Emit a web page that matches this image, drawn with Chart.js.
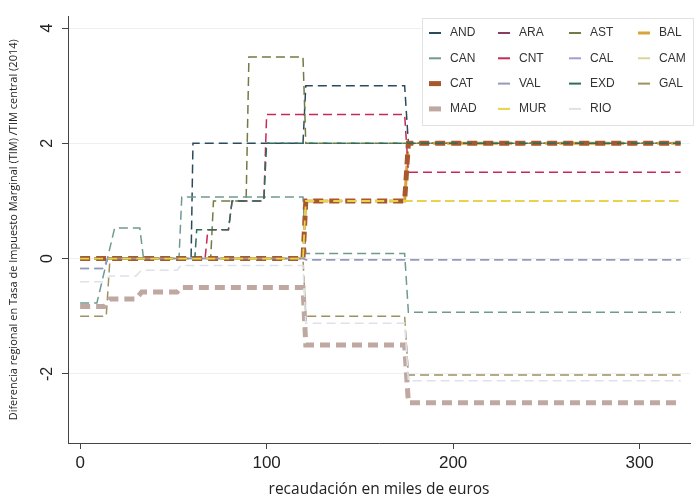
<!DOCTYPE html>
<html>
<head>
<meta charset="utf-8">
<script src="https://cdn.jsdelivr.net/npm/chart.js@4.4.0/dist/chart.umd.min.js"></script>
<style>
  html, body { margin: 0; padding: 0; background: #fff; }
  #wrap { width: 698px; height: 503px; }
</style>
</head>
<body>
<div id="wrap"><canvas id="tim"></canvas></div>
<script>
// Diferencia regional de TIM frente a TIM central (2014)
// cada serie: puntos [recaudacion (miles de euros), diferencia]
const AND = [[0,0],[59.5,0],[60.5,2],[119.5,2],[121,3],[174,3],[176,2],[322,2]];
const ARA = [[0,0],[119.5,0],[121,1],[322,1]];
const AST = [[0,0],[70,0],[71.5,1],[89,1],[90.5,3.5],[119.5,3.5],[121,2],[322,2]];
const BAL = [[0,0],[119.5,0],[121,1],[174,1],[176,2],[322,2]];
const CAN = [[0,-0.77],[9,-0.77],[18.5,0.53],[32,0.53],[34,0],[53,0],[54.5,1.07],[119.5,1.07],[121,0.09],[174,0.09],[176,-0.93],[322,-0.93]];
const CNT = [[0,0],[67,0],[68.5,0.5],[79.5,0.5],[81.5,1],[98.5,1],[100,2.5],[174,2.5],[176,1.5],[322,1.5]];
const CAL = [[0,-0.17],[12,-0.17],[15,0],[119.5,0],[121,-0.02],[322,-0.02]];
const CAM = [[0,0],[119.5,0],[121,1],[322,1]];
const CAT = [[0,0],[119.5,0],[121,1],[174,1],[176,2],[322,2]];
const VAL = [[0,-0.17],[12,-0.17],[15,0],[119.5,0],[121,-0.02],[322,-0.02]];
const EXD = [[0,0],[61.5,0],[62.5,0.5],[79.5,0.5],[81.5,1],[98.5,1],[100,2],[322,2]];
const GAL = [[0,-1],[14,-1],[16,0],[119.5,0],[121,-1],[174,-1],[176,-2.02],[322,-2.02]];
const MAD = [[0,-0.83],[13,-0.83],[16,-0.7],[30,-0.7],[33,-0.58],[52,-0.58],[54,-0.5],[119.5,-0.5],[121,-1.5],[174,-1.5],[176,-2.5],[322,-2.5]];
const MUR = [[0,0],[119.5,0],[121,1],[322,1]];
const RIO = [[0,-0.4],[12,-0.4],[16,-0.3],[30,-0.3],[33,-0.2],[52,-0.2],[54,-0.12],[119.5,-0.12],[121,-1.12],[174,-1.12],[176,-2.12],[322,-2.12]];

const regiones = ["AND","ARA","AST","BAL","CAN","CNT","CAL","CAM","CAT","VAL","EXD","GAL","MAD","MUR","RIO"];
const series = [AND, ARA, AST, BAL, CAN, CNT, CAL, CAM, CAT, VAL, EXD, GAL, MAD, MUR, RIO];
const xTicks = [0, 100, 200, 300];
const yTicks = [-2, 0, 2, 4];

// estilo
const colores = ["#2c4a5c","#8a3d5e","#6f7c45","#d9a43a","#6f9a90","#c42a55","#a89ad6","#d9d497",
                 "#a8582c","#8f9db8","#2f6d5b","#a09060","#bfa8a2","#e8d44a","#dde2ea"];
const grosor = [1.5,1.5,1.5,3,1.5,1.5,1.5,1.5,5,1.5,1.5,1.5,5,1.8,1.5];

const legendBox = {
  id: "legendBox",
  afterDraw(chart) {
    const ctx = chart.ctx;
    ctx.save();
    ctx.fillStyle = "#fff";
    ctx.fillRect(422, 18, 271, 107);
    ctx.strokeStyle = "#e2e2e2";
    ctx.lineWidth = 1;
    ctx.strokeRect(422.5, 18.5, 271, 107);
    const colX = [429, 498, 569, 638];
    ctx.font = "12px 'Liberation Sans'";
    ctx.textBaseline = "middle";
    chart.data.datasets.forEach((ds, i) => {
      const x = colX[i % 4];
      const y = 33 + Math.floor(i / 4) * 25.3;
      ctx.strokeStyle = ds.borderColor;
      ctx.lineWidth = Math.max(2, ds.borderWidth);
      ctx.setLineDash([]);
      ctx.beginPath();
      ctx.moveTo(x, y);
      ctx.lineTo(x + 12, y);
      ctx.stroke();
      ctx.fillStyle = "#333";
      ctx.fillText(ds.label, x + 21, y);
    });
    ctx.restore();
  }
};

new Chart(document.getElementById("tim"), {
  type: "line",
  data: {
    datasets: regiones.map((r, i) => ({
      label: r,
      data: series[i].map(p => ({ x: p[0], y: p[1] })),
      borderColor: colores[i],
      borderWidth: grosor[i],
      borderDash: grosor[i] > 3 ? [10, 6] : [9, 5],
      pointRadius: 0,
      tension: 0,
      fill: false,
      order: regiones.length - i
    }))
  },
  options: {
    responsive: true,
    maintainAspectRatio: false,
    animation: false,
    layout: { padding: { top: 15, right: 8, left: 0, bottom: 0 } },
    plugins: { legend: { display: false }, tooltip: { enabled: false } },
    scales: {
      x: {
        type: "linear", min: -6.5, max: 327,
        afterBuildTicks: s => { s.ticks = xTicks.map(v => ({ value: v })); },
        afterFit: s => { s.height = 60; },
        grid: { drawOnChartArea: false, tickLength: 6, tickColor: "#444" },
        border: { color: "#444" },
        ticks: { font: { family: "Liberation Sans", size: 17 }, color: "#222", padding: 4, maxRotation: 0 },
        title: { display: true, text: "recaudación en miles de euros",
                 font: { family: "Open Sans", size: 15.5 }, color: "#222", padding: { top: 4, bottom: 4 } }
      },
      y: {
        type: "linear", min: -3.2, max: 4.2,
        afterBuildTicks: s => { s.ticks = yTicks.map(v => ({ value: v })); },
        afterFit: s => { s.width = 68; },
        grid: { color: "#edf0f3", tickLength: 6, tickColor: "#444" },
        border: { color: "#444" },
        ticks: { font: { family: "Liberation Sans", size: 16 }, color: "#222",
                 minRotation: 90, maxRotation: 90, crossAlign: "center", padding: 7 },
        title: { display: true, text: "Diferencia regional en Tasa de Impuesto Marginal (TIM) /TIM central (2014)",
                 font: { family: "Open Sans", size: 11 }, color: "#222", padding: { top: 7, bottom: 7 } }
      }
    }
  },
  plugins: [legendBox]
});
</script>
</body>
</html>
